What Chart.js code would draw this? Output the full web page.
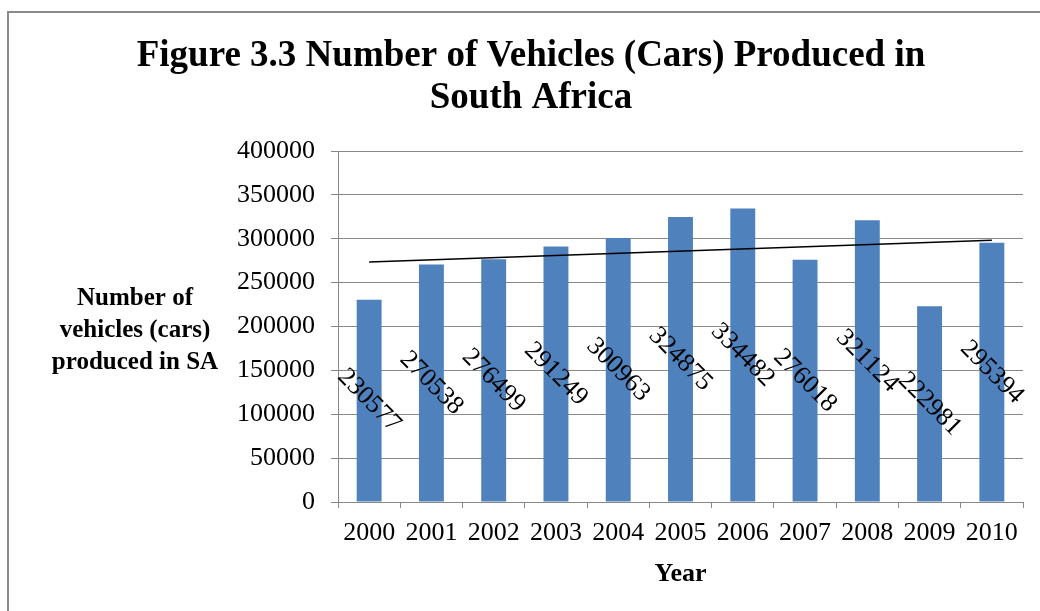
<!DOCTYPE html>
<html>
<head>
<meta charset="utf-8">
<script src="https://cdn.jsdelivr.net/npm/chart.js@4/dist/chart.umd.min.js"></script>
<style>
  html, body { margin: 0; padding: 0; background: #fff; }
  #wrap { width: 1040px; height: 611px; position: relative; }
</style>
</head>
<body>
<div id="wrap"><canvas id="c" width="1040" height="611"></canvas></div>
<script>
const years = ['2000','2001','2002','2003','2004','2005','2006','2007','2008','2009','2010'];
const vehicles = [230577, 270538, 276499, 291249, 300963, 324875, 334482, 276018, 321124, 222981, 295394];
// Linear trendline endpoints (first and last year)
const trend = [273600, null, null, null, null, null, null, null, null, null, 298200];
const yTicks = [0, 50000, 100000, 150000, 200000, 250000, 300000, 350000, 400000];
const titleLines = ['Figure 3.3 Number of Vehicles (Cars) Produced in', 'South Africa'];
const yTitleLines = ['Number of', 'vehicles (cars)', 'produced in SA'];
const xTitle = 'Year';

const SERIF = '"Liberation Serif", "Times New Roman", serif';
const GRID = '#888888';

const framePlugin = {
  id: 'frame',
  beforeDraw(chart) {
    const ctx = chart.ctx;
    ctx.save();
    ctx.fillStyle = '#ffffff';
    ctx.fillRect(0, 0, chart.width, chart.height);
    ctx.strokeStyle = '#8a8a8a';
    ctx.lineWidth = 2;
    ctx.strokeRect(8, 12, chart.width + 20, chart.height + 20);
    ctx.restore();
  },
  afterDraw(chart) {
    const ctx = chart.ctx;
    ctx.save();
    ctx.fillStyle = '#000';
    ctx.textAlign = 'center';
    ctx.textBaseline = 'middle';
    // chart title
    ctx.font = 'bold 37px ' + SERIF;
    titleLines.forEach((t, i) => {
      ctx.fillText(t, 531, 56 + i * 42);
    });
    // vertical-axis title, written horizontally
    ctx.font = 'bold 25px ' + SERIF;
    const cy = (chart.chartArea.top + chart.chartArea.bottom) / 2;
    const lh = 32;
    yTitleLines.forEach((t, i) => {
      ctx.fillText(t, 135, cy + 4 + (i - (yTitleLines.length - 1) / 2) * lh);
    });
    ctx.restore();
  }
};

const labelPlugin = {
  id: 'barLabels',
  afterDatasetsDraw(chart) {
    const ctx = chart.ctx;
    const dsIndex = chart.data.datasets.findIndex(d => d.type === 'bar');
    const meta = chart.getDatasetMeta(dsIndex);
    const data = chart.data.datasets[dsIndex].data;
    ctx.save();
    ctx.fillStyle = '#000';
    ctx.font = '26px ' + SERIF;
    ctx.textAlign = 'center';
    ctx.textBaseline = 'middle';
    meta.data.forEach((el, i) => {
      const x = el.x;
      const y = (el.y + el.base) / 2;
      ctx.save();
      ctx.translate(x, y);
      ctx.rotate(Math.PI / 4);
      ctx.fillText(String(data[i]), 0, 0);
      ctx.restore();
    });
    ctx.restore();
  }
};

new Chart(document.getElementById('c'), {
  data: {
    labels: years,
    datasets: [
      {
        type: 'line',
        label: 'Linear trend',
        data: trend,
        spanGaps: true,
        borderColor: '#000000',
        borderWidth: 1.5,
        pointRadius: 0,
        fill: false,
        order: 0
      },
      {
        type: 'bar',
        label: 'Number of vehicles (cars) produced in SA',
        data: vehicles,
        backgroundColor: '#4F81BD',
        borderWidth: 0,
        barPercentage: 0.4,
        categoryPercentage: 1.0,
        order: 1
      }
    ]
  },
  options: {
    responsive: false,
    animation: false,
    devicePixelRatio: 1,
    layout: { padding: { left: 0, right: 17, top: 151, bottom: 21 } },
    plugins: {
      legend: { display: false },
      tooltip: { enabled: false },
      title: { display: false }
    },
    scales: {
      x: {
        offset: true,
        grid: { display: true, drawOnChartArea: false, drawTicks: true, tickLength: 6, color: GRID, offset: true },
        border: { display: true, color: GRID, width: 1 },
        ticks: { color: '#000', font: { family: SERIF, size: 26 }, padding: 10, maxRotation: 0, autoSkip: false },
        title: { display: true, text: xTitle, color: '#000', font: { family: SERIF, size: 26, weight: 'bold' }, padding: { top: 4, bottom: 0 } },
        afterFit(scale) { scale.height = 88; }
      },
      y: {
        min: 0,
        max: 400000,
        afterBuildTicks(scale) { scale.ticks = yTicks.map(v => ({ value: v })); },
        grid: { color: GRID, lineWidth: 1, drawTicks: true, tickLength: 7 },
        border: { display: true, color: GRID, width: 1 },
        ticks: { color: '#000', font: { family: SERIF, size: 26 }, padding: 16, callback: (v) => String(v) },
        afterFit(scale) { scale.width = 338; }
      }
    }
  },
  plugins: [framePlugin, labelPlugin]
});
</script>
</body>
</html>
